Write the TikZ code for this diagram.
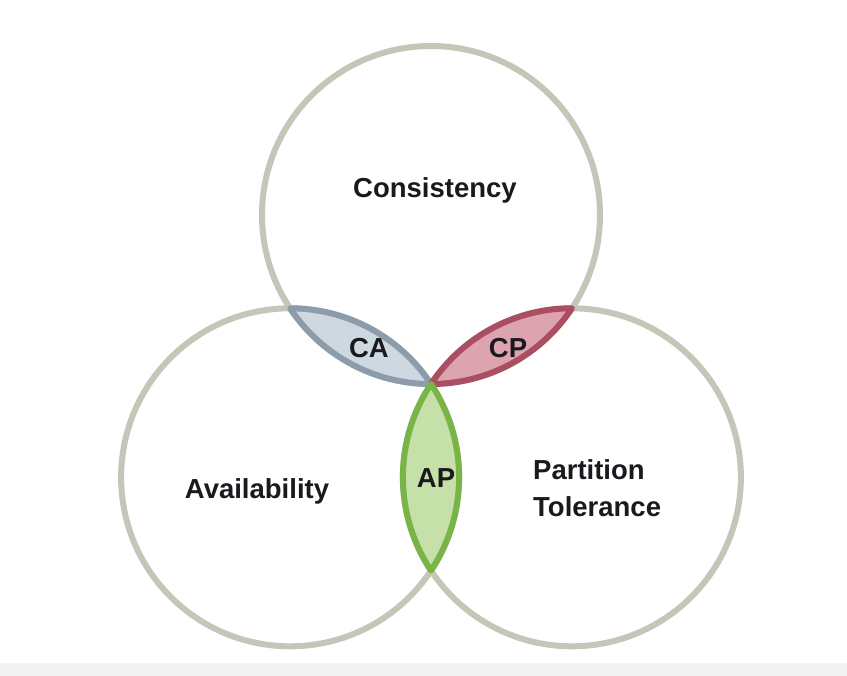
\documentclass[tikz,border=0pt]{standalone}
\usepackage{fontspec}
\setmainfont{Liberation Sans}
\definecolor{ringgray}{RGB}{196,198,184}
\definecolor{cafill}{RGB}{206,216,224}
\definecolor{caline}{RGB}{140,156,170}
\definecolor{cpfill}{RGB}{221,163,175}
\definecolor{cpline}{RGB}{172,78,98}
\definecolor{apfill}{RGB}{198,224,170}
\definecolor{apline}{RGB}{120,180,70}
\definecolor{txt}{RGB}{25,25,30}
\definecolor{strip}{RGB}{243,243,243}
\tikzset{
  ring/.style={circle, draw=ringgray, line width=6pt, minimum size=338pt, inner sep=0pt, outer sep=0pt},
  lens/.style={line width=6pt, line join=round},
  big/.style={font=\fontsize{27.5}{32}\selectfont\bfseries, text=txt, inner sep=0pt, anchor=base},
}
\begin{document}
\begin{tikzpicture}[x=1pt,y=1pt]
\useasboundingbox (0,0) rectangle (847,-676);
\fill[white] (0,0) rectangle (847,-676);
\fill[strip] (0,-663) rectangle (847,-676);
% common point and circle centres
\coordinate (P) at (431,-384);
\node[ring] (top) at (431,-215) {};
\node[ring] (left) at (290.1,-477.3) {};
\node[ring] (right) at (571.9,-477.3) {};
\coordinate (Q) at (290.1,-308.3);
\coordinate (R) at (571.9,-308.3);
% lenses
\filldraw[lens, fill=cafill, draw=caline] (Q) arc[start angle=213.5, end angle=270, radius=169] arc[start angle=33.5, end angle=90, radius=169] -- cycle;
\filldraw[lens, fill=cpfill, draw=cpline] (P) arc[start angle=-90, end angle=-33.5, radius=169] arc[start angle=90, end angle=146.5, radius=169] -- cycle;
\filldraw[lens, fill=apfill, draw=apline] (P) arc[start angle=33.5, end angle=-33.5, radius=169] arc[start angle=213.5, end angle=146.5, radius=169] -- cycle;
% labels
\node[big] (consistency) at (435,-198) {Consistency};
\node[big] (availability) at (257,-499) {Availability};
\node[big, anchor=base west] (partition) at (533,-479) {Partition};
\node[big, anchor=base west] (tolerance) at (533,-517) {Tolerance};
\node[big] (ca) at (369,-358) {CA};
\node[big] (cp) at (508,-358) {CP};
\node[big] (ap) at (436,-488) {AP};
\end{tikzpicture}
\end{document}
